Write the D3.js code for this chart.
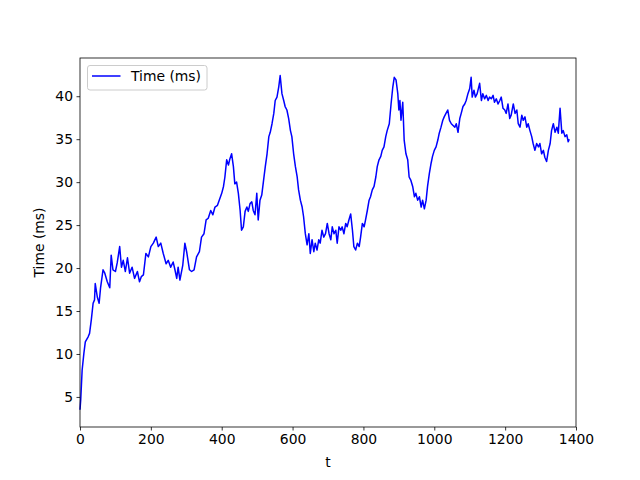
<!DOCTYPE html>
<html>
<head>
<meta charset="utf-8">
<script src="https://cdn.jsdelivr.net/npm/d3@7"></script>
<style>
  html, body { margin: 0; padding: 0; background: #fff; }
  svg { display: block; font-family: "DejaVu Sans", sans-serif; }
</style>
</head>
<body>
<svg id="chart" width="640" height="480"></svg>
<script>
const tValues = [
  0,2,6,11,15,23,27,32,37,41,
  43,49,54,58,65,70,77,84,88,93,
  100,105,112,117,122,128,134,140,147,154,
  162,168,173,179,186,193,200,207,215,221,
  228,235,243,249,256,263,268,273,277,282,
  290,296,301,309,315,322,329,337,343,350,
  356,362,369,375,381,388,393,400,405,409,
  414,419,423,428,433,437,442,447,452,456,
  461,466,471,475,480,485,489,494,499,503,
  508,513,519,523,528,533,537,542,547,551,
  556,561,565,570,575,579,584,589,594,598,
  603,608,613,617,622,627,631,636,641,646,
  650,655,660,664,669,674,678,683,688,693,
  698,703,708,712,717,722,726,731,736,740,
  745,750,754,759,764,769,773,778,783,788,
  792,797,802,806,811,816,820,825,830,835,
  839,844,849,853,858,863,867,873,878,883,
  887,892,897,900,903,906,911,915,920,925,
  929,934,939,944,948,953,958,963,967,972,
  977,981,986,991,995,1000,1005,1010,1014,1019,
  1024,1028,1033,1038,1043,1048,1053,1058,1062,1067,
  1072,1076,1081,1086,1090,1095,1100,1104,1107,1112,
  1116,1121,1128,1133,1137,1142,1147,1152,1156,1161,
  1166,1170,1175,1180,1185,1189,1194,1199,1203,1208,
  1213,1217,1223,1228,1233,1237,1242,1247,1251,1256,
  1261,1265,1270,1275,1279,1284,1289,1294,1298,1303,
  1308,1312,1317,1322,1327,1331,1336,1341,1346,1350,
  1355,1360,1364,1369,1374,1378,1381
];
const timeMs = [
  3.5,4.65,8.1,10.1,11.4,12.0,12.4,14.0,15.9,16.3,
  18.2,16.6,15.9,17.7,19.8,19.4,18.4,17.7,21.5,19.8,
  19.6,20.6,22.5,20.1,20.9,19.6,21.2,19.4,20.1,18.8,
  19.6,18.4,19.0,19.2,21.7,21.3,22.5,22.9,23.6,22.5,
  22.9,21.7,20.5,20.9,20.1,20.7,19.8,18.8,20.1,18.6,
  20.3,22.9,21.9,19.8,19.6,19.8,21.3,21.9,23.6,24.0,
  25.6,25.8,26.7,26.2,27.1,27.3,27.9,28.7,29.5,30.6,
  32.6,32.0,32.7,33.3,31.8,29.8,30.0,28.7,26.7,24.4,
  24.8,26.6,27.1,26.6,27.5,27.7,26.7,26.2,28.7,25.6,
  27.9,28.5,30.5,31.8,33.3,35.3,35.8,36.8,38.0,39.5,
  39.9,41.1,42.4,40.3,39.5,38.8,38.4,37.4,36.0,35.3,
  33.3,31.8,30.6,29.1,27.9,27.1,26.0,24.0,22.7,24.0,
  21.7,23.3,21.9,22.9,22.1,23.3,22.9,24.4,23.6,24.0,
  25.2,24.0,23.3,24.8,24.0,24.4,22.9,24.8,24.4,24.8,
  24.0,25.2,24.8,25.6,26.3,24.4,22.5,22.1,22.9,22.5,
  23.6,25.2,24.8,25.6,26.7,27.9,28.3,29.1,29.5,30.6,
  31.8,32.6,33.0,33.7,34.1,35.3,36.0,36.8,39.1,41.1,
  42.2,41.9,40.3,38.4,39.5,37.2,39.3,34.9,33.3,32.6,
  30.6,30.2,29.5,28.3,28.7,27.9,28.3,27.1,27.9,26.9,
  27.9,29.5,31.0,32.2,33.0,33.7,34.1,34.9,35.7,36.4,
  37.2,37.6,38.0,38.4,37.2,36.8,36.6,36.4,36.8,35.8,
  37.4,38.0,38.8,39.1,39.5,40.3,40.9,42.2,39.9,40.7,
  39.9,40.3,41.5,39.5,40.3,39.7,40.1,39.5,39.9,39.7,
  40.1,39.3,39.7,39.1,39.5,39.9,38.6,38.4,38.0,39.1,
  37.4,37.8,39.1,38.0,38.4,36.8,36.4,37.8,37.2,37.6,
  36.4,36.8,36.0,35.3,34.5,33.7,34.5,34.1,34.5,33.3,
  33.7,32.9,32.4,33.7,34.5,36.0,36.8,35.8,36.4,35.7,
  38.6,35.7,36.0,35.3,35.5,34.7,35.0
];
const xTicks = [0, 200, 400, 600, 800, 1000, 1200, 1400];
const yTicks = [5, 10, 15, 20, 25, 30, 35, 40];
const seriesName = "Time (ms)";
const xLabel = "t";
const yLabel = "Time (ms)";

const data = tValues.map((t, i) => ({ t, v: timeMs[i] }));

const margin = { left: 80, top: 58, right: 64, bottom: 53 };
const W = 640, H = 480;
const iw = W - margin.left - margin.right;
const ih = H - margin.top - margin.bottom;

const svg = d3.select("#chart");
const g = svg.append("g").attr("transform", `translate(${margin.left},${margin.top})`);

const x = d3.scaleLinear().domain([0, 1400]).range([0, iw]);
const y = d3.scaleLinear().domain([1.5, 44.45]).range([ih, 0]);

// line
g.append("path")
  .datum(data)
  .attr("fill", "none")
  .attr("stroke", "#0000ff")
  .attr("stroke-width", 1.5)
  .attr("stroke-linejoin", "round")
  .attr("d", d3.line().x(d => x(d.t)).y(d => y(d.v)));

// axes
const fs = "13.9px";
const xAxis = g.append("g").attr("transform", `translate(0,${ih})`)
  .call(d3.axisBottom(x).tickValues(xTicks).tickSize(3.5).tickPadding(3.5).tickFormat(d3.format("d")));
const yAxis = g.append("g")
  .call(d3.axisLeft(y).tickValues(yTicks).tickSize(3.5).tickPadding(3.5).tickFormat(d3.format("d")));
[xAxis, yAxis].forEach(a => {
  a.select(".domain").remove();
  a.selectAll(".tick line").attr("stroke", "#000").attr("stroke-width", 0.8);
  a.selectAll(".tick text").attr("fill", "#000").style("font-size", fs).style("font-family", "DejaVu Sans");
});

// frame
g.append("rect").attr("x", 0).attr("y", 0).attr("width", iw).attr("height", ih)
  .attr("fill", "none").attr("stroke", "#000").attr("stroke-width", 0.8);

// axis labels
svg.append("text").attr("x", margin.left + iw / 2).attr("y", 467)
  .attr("text-anchor", "middle").style("font-size", fs).text(xLabel);
svg.append("text").attr("transform", `translate(44,${margin.top + ih / 2}) rotate(-90)`)
  .attr("text-anchor", "middle").style("font-size", fs).text(yLabel);

// legend
const lg = svg.append("g");
lg.append("rect").attr("x", 87.5).attr("y", 65.5).attr("width", 119.5).attr("height", 24.5)
  .attr("rx", 2.5).attr("fill", "#fff").attr("fill-opacity", 0.8)
  .attr("stroke", "#cccccc").attr("stroke-width", 1);
lg.append("line").attr("x1", 92).attr("x2", 120.5).attr("y1", 76).attr("y2", 76)
  .attr("stroke", "#0000ff").attr("stroke-width", 1.5);
lg.append("text").attr("x", 131).attr("y", 81).style("font-size", fs).text(seriesName);
</script>
</body>
</html>
